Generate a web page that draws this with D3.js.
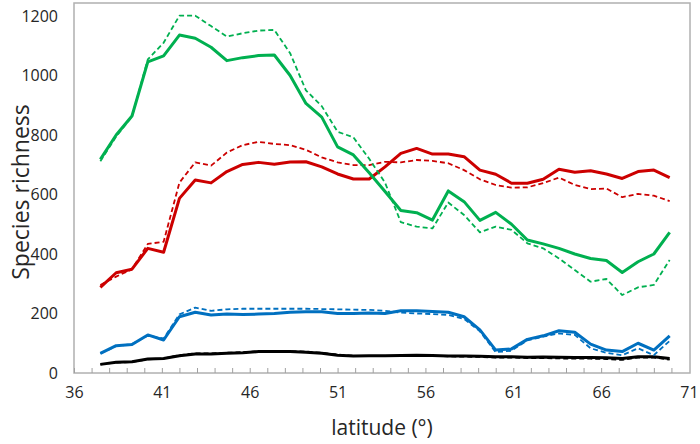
<!DOCTYPE html>
<html>
<head>
<meta charset="utf-8">
<script src="https://cdn.jsdelivr.net/npm/d3@7"></script>
<style>
  body { margin: 0; background: #fff; }
  svg text { font-family: "Open Sans", sans-serif; fill: #262626; }
</style>
</head>
<body>
<div id="chart"></div>
<script>
// latitude band centres (degrees)
const latitude = [37.5, 38.4, 39.3, 40.2, 41.1, 42.0, 42.9, 43.8, 44.7, 45.6, 46.5, 47.4, 48.3,
    49.2, 50.1, 51.0, 51.9, 52.8, 53.7, 54.6, 55.5, 56.4, 57.3, 58.2, 59.1, 60.0, 60.9, 61.8,
    62.7, 63.6, 64.5, 65.4, 66.3, 67.2, 68.1, 69.0, 69.9];

// species richness per band, solid and dashed lines of each colour
const greenSolid = [718, 800, 864, 1046, 1066, 1136, 1125, 1095, 1050, 1060, 1067, 1069, 1000,
    906, 860, 760, 733, 673, 610, 546, 539, 514, 612, 576, 513, 540, 500, 447, 434, 419, 400,
    385, 378, 338, 374, 400, 473];
const greenDashed = [712, 795, 862, 1054, 1110, 1201, 1201, 1166, 1131, 1142, 1151, 1153, 1075,
    950, 897, 811, 792, 720, 640, 507, 492, 486, 573, 531, 473, 492, 481, 436, 419, 385, 346,
    307, 316, 262, 288, 296, 380];
const redSolid = [288, 337, 349, 419, 406, 587, 649, 639, 677, 701, 708, 702, 709, 710, 693,
    669, 652, 652, 693, 738, 755, 736, 736, 727, 682, 668, 638, 638, 651, 685, 675, 680, 669,
    654, 677, 682, 657];
const redDashed = [296, 324, 349, 434, 441, 640, 708, 697, 741, 766, 777, 770, 766, 750, 725,
    708, 699, 699, 710, 708, 716, 713, 705, 682, 651, 632, 623, 624, 638, 657, 632, 618, 620,
    591, 602, 596, 578];
const blueSolid = [66, 92, 96, 128, 111, 189, 204, 195, 198, 197, 198, 200, 204, 206, 206, 200,
    200, 202, 200, 209, 209, 207, 204, 189, 145, 77, 81, 113, 125, 142, 137, 97, 77, 72, 100,
    77, 125];
const blueDashed = [66, 90, 97, 126, 116, 197, 220, 209, 214, 216, 216, 216, 216, 216, 215, 214,
    213, 212, 209, 203, 200, 198, 195, 182, 140, 70, 75, 110, 122, 133, 128, 83, 68, 60, 83,
    60, 108];
const blackSolid = [29, 36, 38, 47, 49, 58, 64, 64, 66, 68, 72, 72, 72, 70, 66, 60, 57, 58, 58,
    59, 60, 59, 57, 57, 56, 55, 55, 53, 54, 53, 52, 52, 51, 49, 55, 55, 49];
const blackDashed = [29, 35, 37, 46, 49, 60, 66, 66, 68, 70, 73, 74, 73, 72, 68, 62, 58, 57, 57,
    58, 59, 58, 56, 55, 54, 52, 52, 50, 50, 49, 48, 48, 47, 44, 52, 52, 45];

// axis tick labels
const xTicks = [36, 41, 46, 51, 56, 61, 66, 71];
const yTicks = [0, 200, 400, 600, 800, 1000, 1200];

const width = 700;
const height = 444;
const margin = { top: 3, right: 10, bottom: 71, left: 74 };

const svg = d3.select('#chart').append('svg')
    .attr('width', width)
    .attr('height', height);

// scales
const xScale = d3.scaleLinear()
    .domain([36, 71])
    .range([margin.left, 689]);

const yScale = d3.scaleLinear()
    .domain([0, 1200])
    .range([height - margin.bottom, 16]);

// plot area border
svg.append('rect')
    .attr('x', margin.left)
    .attr('y', margin.top)
    .attr('width', width - margin.right - margin.left)
    .attr('height', height - margin.bottom - margin.top)
    .attr('fill', 'none')
    .attr('stroke', '#b0b0b0')
    .attr('stroke-width', 1.5);

// minor ticks, one per degree, pointing into the plot
svg.append('g')
    .attr('transform', `translate(0, ${height - margin.bottom})`)
    .call(d3.axisBottom(xScale)
        .tickValues(d3.range(36, 71))
        .tickSize(-5)
        .tickFormat(''))
    .call(g => g.select('.domain').remove())
    .selectAll('line')
        .attr('stroke', '#a0a0a0');

// x tick labels
svg.append('g')
    .attr('transform', `translate(0, ${height - margin.bottom})`)
    .call(d3.axisBottom(xScale)
        .tickValues(xTicks)
        .tickSize(0)
        .tickPadding(14))
    .call(g => g.select('.domain').remove())
    .selectAll('text')
        .style('font-size', '16px');

// y tick labels
svg.append('g')
    .attr('transform', `translate(${margin.left}, 0)`)
    .call(d3.axisLeft(yScale)
        .tickValues(yTicks)
        .tickFormat(d3.format('d'))
        .tickSize(0)
        .tickPadding(16))
    .call(g => g.select('.domain').remove())
    .selectAll('text')
        .style('font-size', '16px');

// the lines
const series = [
    { values: blackDashed, color: '#000000', dashed: true },
    { values: blackSolid, color: '#000000', dashed: false },
    { values: blueDashed, color: '#0070c0', dashed: true },
    { values: blueSolid, color: '#0070c0', dashed: false },
    { values: redDashed, color: '#cc0000', dashed: true },
    { values: redSolid, color: '#cc0000', dashed: false },
    { values: greenDashed, color: '#00b050', dashed: true },
    { values: greenSolid, color: '#00b050', dashed: false }
];

const line = d3.line()
    .x((d, i) => xScale(latitude[i]))
    .y(d => yScale(d));

svg.append('g')
    .selectAll('path')
    .data(series)
    .enter()
    .append('path')
    .attr('d', d => line(d.values))
    .attr('fill', 'none')
    .attr('stroke', d => d.color)
    .attr('stroke-width', d => d.dashed ? 1.8 : 3)
    .attr('stroke-dasharray', d => d.dashed ? '5,3' : null)
    .attr('stroke-linejoin', 'round');

// axis titles
svg.append('text')
    .attr('transform', `translate(29, 192) rotate(-90)`)
    .attr('text-anchor', 'middle')
    .style('font-size', '23px')
    .text('Species richness');

svg.append('text')
    .attr('x', 382)
    .attr('y', 435)
    .attr('text-anchor', 'middle')
    .style('font-size', '21px')
    .text('latitude (°)');
</script>
</body>
</html>
